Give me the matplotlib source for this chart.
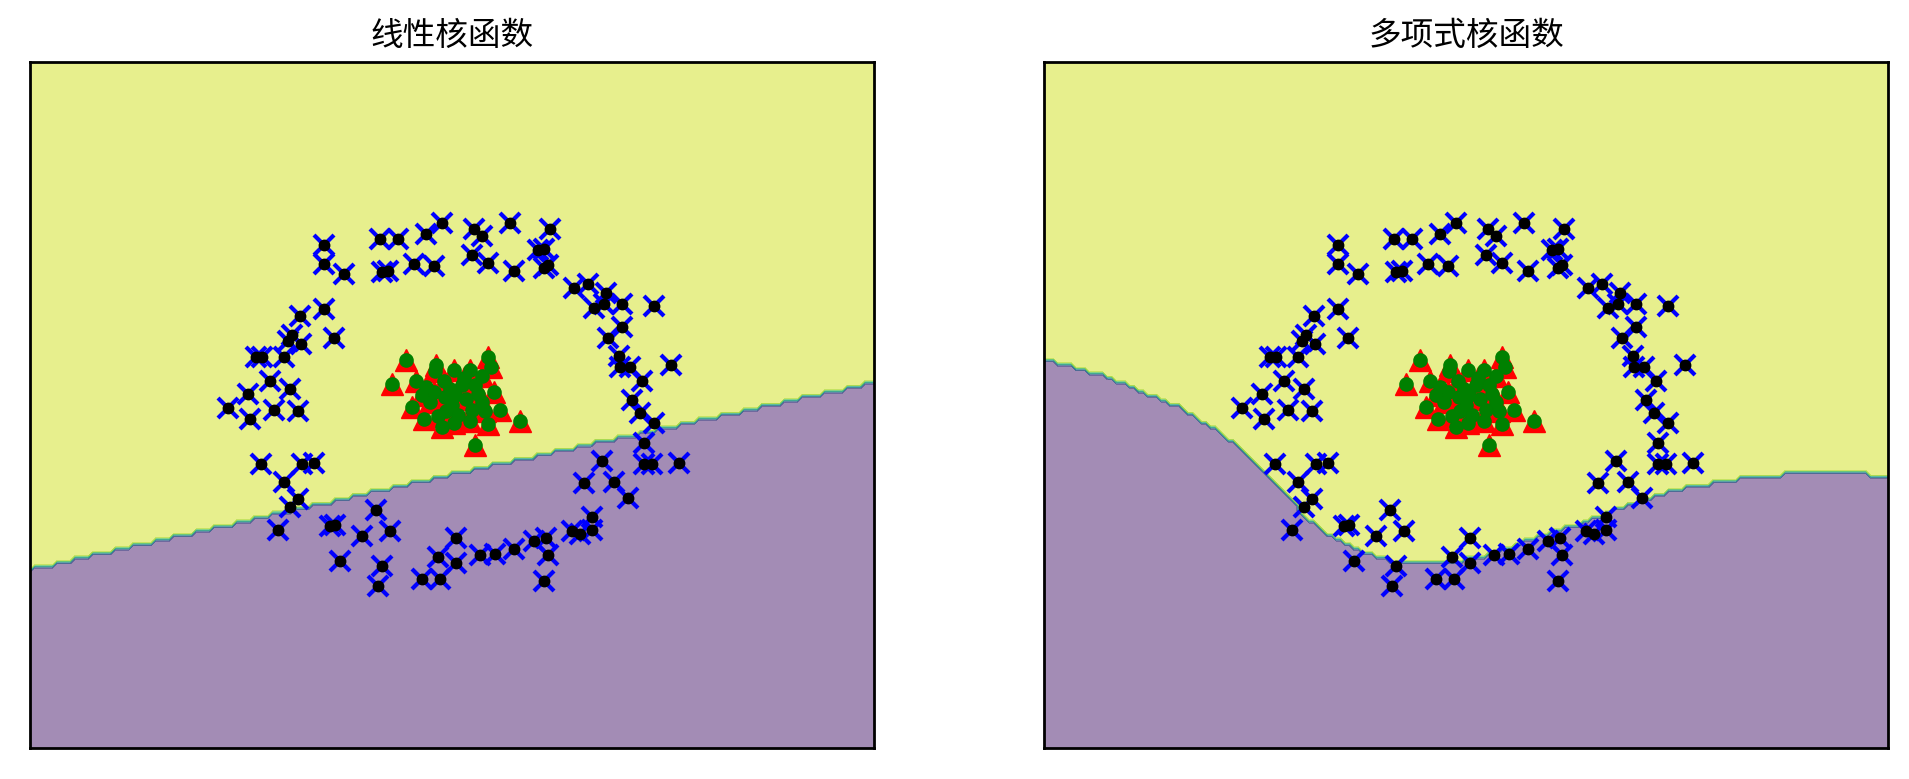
import numpy as np
import matplotlib
matplotlib.use('Agg')
import matplotlib.pyplot as plt

plt.rcParams['font.family'] = ['Noto Sans CJK SC', 'DejaVu Sans']

titles = ['线性核函数', '多项式核函数']

# outer ring samples
outer_x = [-0.64, -0.64, -0.54, -0.36, -0.27, -0.13, -0.05, -0.35, -0.32, -0.19,
           -0.09, -0.64, -0.76, -0.59, -0.80, -0.82, -0.755, -0.98, -0.95, -0.84,
           -0.91, -0.81, -1.02, -1.12, -0.89, -0.77, 0.11, 0.15, 0.29, 0.49,
           0.10, 0.18, 0.31, 0.43, 0.46, 0.46, 0.48, 0.61, 0.68, 0.77,
           0.71, 0.76, 0.85, 1.01, 0.85, 0.78, 0.835, 0.84, 0.89, 1.095,
           0.95, 0.90, 0.94, -1.01, -0.955, -0.84, -0.75, -0.69, -0.77, -0.81,
           -0.87, -0.61, -0.585, -0.45, -0.38, -0.31, -0.56, -0.35, -0.37, -0.07,
           -0.15, -0.06, 0.02, 0.02, 0.14, 0.215, 0.31, 0.41, 0.47, 0.48,
           0.46, 0.60, 0.64, 0.70, 0.70, 0.66, 0.75, 0.81, 0.88, 0.96,
           0.96, 1.00, 1.135, 1.01]
outer_y = [1.00, 0.88, 0.82, 1.04, 1.04, 1.07, 1.14, 0.83, 0.84, 0.88,
           0.87, 0.60, 0.56, 0.42, 0.44, 0.40, 0.38, 0.30, 0.30, 0.30,
           0.15, 0.10, 0.07, -0.02, -0.03, -0.04, 1.10, 1.06, 1.14, 1.10,
           0.94, 0.89, 0.84, 0.97, 0.98, 0.86, 0.875, 0.73, 0.76, 0.70,
           0.61, 0.63, 0.63, 0.62, 0.49, 0.42, 0.31, 0.24, 0.24, 0.25,
           0.15, 0.03, -0.05, -0.09, -0.37, -0.48, -0.37, -0.36, -0.59, -0.64,
           -0.78, -0.76, -0.75, -0.82, -0.66, -0.79, -0.975, -1.01, -1.13, -0.95,
           -1.09, -1.09, -0.83, -0.99, -0.94, -0.93, -0.90, -0.85, -0.83, -0.94,
           -1.10, -0.79, -0.81, -0.70, -0.78, -0.49, -0.35, -0.48, -0.58, -0.24,
           -0.37, -0.37, -0.36, -0.11]

# inner cluster samples
inner_x = [-0.23, -0.30, -0.18, -0.08, 0.01, 0.09, 0.18, 0.195, 0.15, -0.04,
           -0.09, -0.15, -0.20, -0.14, -0.05, 0.01, 0.09, 0.18, 0.24, 0.34,
           0.115, -0.07, 0.0, 0.07, 0.13, 0.05, 0.115, 0.165, 0.03, -0.035,
           -0.11, 0.15, -0.085, 0.015, 0.10, -0.03, -0.13, 0.06, 0.21, -0.01]
inner_y = [0.28, 0.13, 0.15, 0.25, 0.22, 0.22, 0.30, 0.24, 0.18, 0.15,
           0.08, 0.06, -0.01, -0.09, -0.14, -0.11, -0.10, -0.12, -0.03, -0.10,
           -0.25, -0.07, 0.0, 0.04, 0.07, 0.125, 0.125, -0.04, -0.06, 0.05,
           0.02, 0.02, 0.21, 0.06, -0.03, -0.04, 0.11, 0.17, 0.08, 0.10]

# decision boundaries (points along the line between the two regions)
lin_bx = [-2.11, -1.01, -0.06, 1.19, 2.11]
lin_by = [-1.03, -0.72, -0.45, -0.11, 0.14]
poly_bx = [-2.11, -1.99, -1.89, -1.78, -1.66, -1.54, -1.44, -1.36, -1.26, -1.16,
           -1.09, -0.99, -0.89, -0.83, -0.73, -0.61, -0.49, -0.39, -0.22, -0.02,
           0.115, 0.28, 0.415, 0.55, 0.68, 0.78, 0.915, 1.03, 1.13, 1.23,
           1.38, 1.715, 1.965, 2.11]
poly_by = [0.28, 0.25, 0.21, 0.17, 0.10, 0.04, -0.01, -0.07, -0.15, -0.24,
           -0.32, -0.45, -0.57, -0.67, -0.78, -0.86, -0.93, -0.97, -0.98, -0.97,
           -0.94, -0.86, -0.80, -0.75, -0.69, -0.64, -0.58, -0.54, -0.51, -0.49,
           -0.46, -0.42, -0.43, -0.45]

xlim = (-2.11, 2.11)
ylim = (-2.15, 2.15)

fig = plt.figure(figsize=(19.09, 7.79), dpi=100)
ax1 = fig.add_axes([0.0157, 0.0392, 0.4421, 0.8817])
ax2 = fig.add_axes([0.5471, 0.0392, 0.4421, 0.8817])

xs = np.linspace(xlim[0], xlim[1], 189)
ys = np.linspace(ylim[0], ylim[1], 154)
xx, yy = np.meshgrid(xs, ys)

for ax, title, bx, by in [(ax1, titles[0], lin_bx, lin_by),
                          (ax2, titles[1], poly_bx, poly_by)]:
    Z = (yy > np.interp(xx, bx, by)).astype(int)
    ax.contourf(xx, yy, Z, cmap='viridis', alpha=0.5)

    ax.plot(outer_x, outer_y, 'bx', ls='none', markersize=15, mew=3.0)
    ax.plot(outer_x, outer_y, 'ko', ls='none', markersize=7.5, mew=1)
    ax.plot(inner_x, inner_y, 'r^', ls='none', markersize=16.5, mew=1)
    ax.plot(inner_x, inner_y, 'go', ls='none', markersize=9.5, mew=1)

    ax.set_xlim(xlim)
    ax.set_ylim(ylim)
    ax.set_xticks([])
    ax.set_yticks([])
    for s in ax.spines.values():
        s.set_linewidth(2)
    ax.set_title(title, fontsize=23.5, pad=12)

fig.savefig('out.png', dpi=100)
